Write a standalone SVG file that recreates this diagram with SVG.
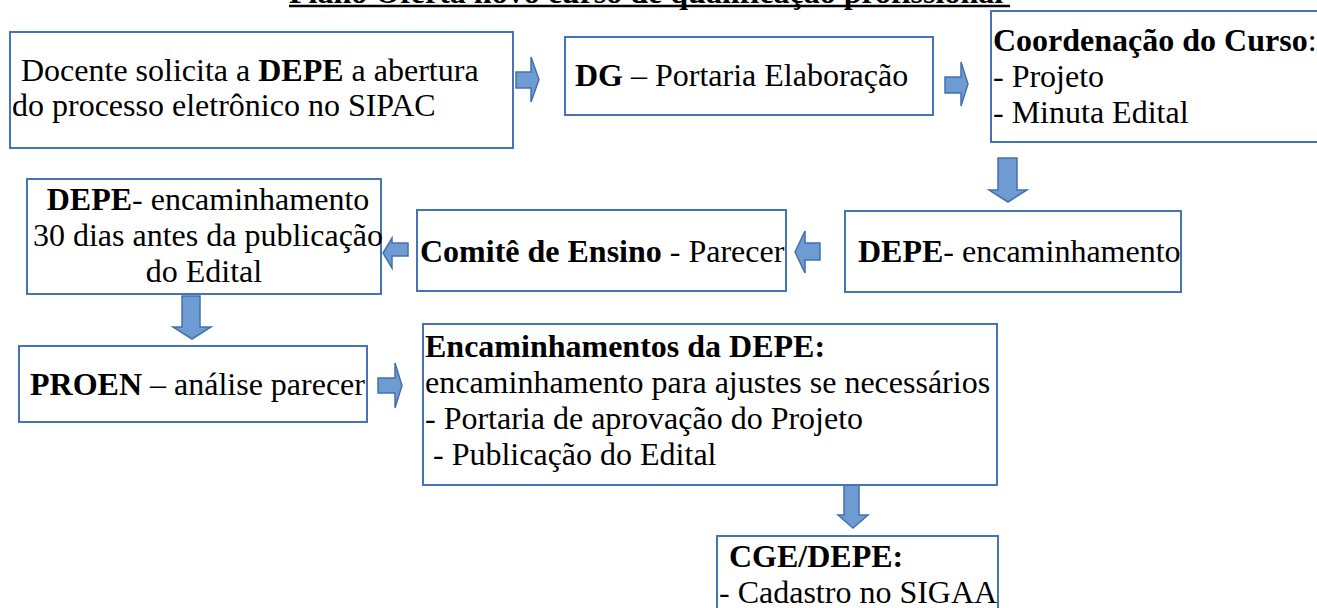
<svg xmlns="http://www.w3.org/2000/svg" width="1317" height="608" viewBox="0 0 1317 608">
<defs>
<style>
text{font-family:"Liberation Serif","Times New Roman",serif;font-size:32px;fill:#000}
.b{font-weight:bold}
.box{fill:#fff;stroke:#4673b8;stroke-width:2}
.arr{fill:#6f9bd3;stroke:#4471ad;stroke-width:1.5;stroke-linejoin:miter}
</style>
</defs>
<rect width="1317" height="608" fill="#fff"/>
<g id="title">
<text class="b" x="289" y="3">Plano Oferta novo curso de qualificação profissional</text>
<line x1="289" y1="6" x2="1010" y2="6" stroke="#000" stroke-width="2.5"/>
</g>
<g id="connectors">
<polygon class="arr" points="516,72 531,72 531,57 539,79.5 531,102 531,88 516,88"/>
<polygon class="arr" points="945,77 961,77 961,62 968,84 961,106 961,93 945,93"/>
<polygon class="arr" points="998,158 1017,158 1017,190 1027,190 1008,202 989,190 998,190"/>
<polygon class="arr" points="820,243 805,243 805,231 795,252 805,273 805,260 820,260"/>
<polygon class="arr" points="408,243 392,243 392,238 383,253 392,268 392,256 408,256"/>
<polygon class="arr" points="182,296 200,296 200,327 211,327 192,339 173,327 182,327"/>
<polygon class="arr" points="378,378 395,378 395,363 402,385.5 395,408 395,393 378,393"/>
<polygon class="arr" points="844,483 859,483 859,515 868,515 853,528 838,515 844,515"/>
</g>
<g id="n1">
<rect class="box" x="10" y="32" width="503" height="116"/>
<text x="21" y="81">Docente solicita a <tspan class="b">DEPE</tspan> a abertura</text>
<text x="12" y="116">do processo eletrônico no SIPAC</text>
</g>
<g id="n2">
<rect class="box" x="565" y="37" width="368" height="78"/>
<text x="575" y="86"><tspan class="b">DG</tspan> – Portaria Elaboração</text>
</g>
<g id="n3">
<rect class="box" x="991" y="11" width="330" height="131"/>
<text x="993" y="51"><tspan class="b">Coordenação do Curso</tspan>:</text>
<text x="993" y="87">- Projeto</text>
<text x="993" y="123">- Minuta Edital</text>
</g>
<g id="n4">
<rect class="box" x="845" y="211" width="336" height="81"/>
<text x="858" y="262"><tspan class="b">DEPE</tspan>- encaminhamento</text>
</g>
<g id="n5">
<rect class="box" x="417" y="210" width="369" height="81"/>
<text x="420" y="262"><tspan class="b">Comitê de Ensino</tspan> - Parecer</text>
</g>
<g id="n6">
<rect class="box" x="27" y="179" width="354" height="115"/>
<text x="208" y="210" text-anchor="middle"><tspan class="b">DEPE</tspan>- encaminhamento</text>
<text x="208" y="246" text-anchor="middle">30 dias antes da publicação</text>
<text x="204" y="282" text-anchor="middle">do Edital</text>
</g>
<g id="n7">
<rect class="box" x="19" y="346" width="348" height="76"/>
<text x="30" y="395"><tspan class="b">PROEN</tspan> – análise parecer</text>
</g>
<g id="n8">
<rect class="box" x="423" y="324" width="574" height="161"/>
<text class="b" x="425" y="357">Encaminhamentos da DEPE:</text>
<text x="425" y="393">encaminhamento para ajustes se necessários</text>
<text x="425" y="429">- Portaria de aprovação do Projeto</text>
<text x="433" y="465">- Publicação do Edital</text>
</g>
<g id="n9">
<rect class="box" x="717" y="536" width="281" height="80"/>
<text class="b" x="729" y="567">CGE/DEPE:</text>
<text x="719" y="603">- Cadastro no SIGAA</text>
</g>
</svg>
